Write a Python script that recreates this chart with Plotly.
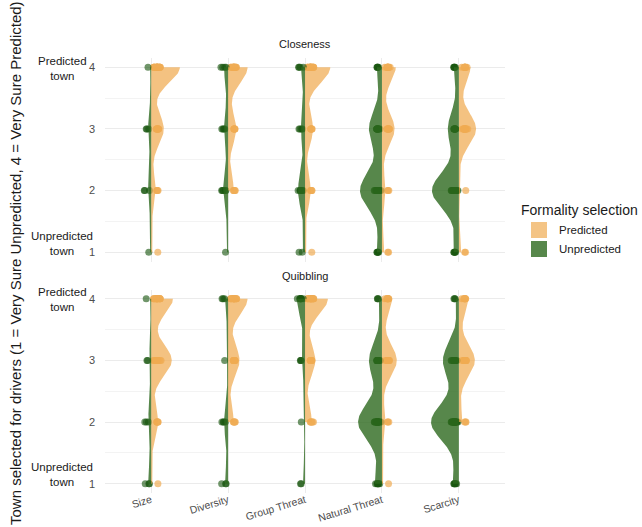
import numpy as np
import plotly.graph_objects as go
from plotly.subplots import make_subplots

# ---------------- data ----------------
categories = ["Size", "Diversity", "Group Threat", "Natural Threat", "Scarcity"]
levels = [1, 2, 3, 4]
facets = ["Closeness", "Quibbling"]
groups = ["Predicted", "Unpredicted"]

# number of responses at levels 1, 2, 3, 4 for each category
closeness_predicted = [[1, 4, 11, 25], [0, 5, 7, 17], [1, 5, 7, 22], [2, 3, 11, 12], [2, 1, 15, 10]]
closeness_unpredicted = [[1, 3, 3, 1], [1, 5, 4, 4], [2, 7, 4, 4], [5, 22, 13, 5], [5, 27, 11, 5]]
quibbling_predicted = [[1, 6, 18, 19], [0, 5, 10, 17], [0, 6, 9, 20], [1, 3, 13, 9], [0, 3, 14, 8]]
quibbling_unpredicted = [[3, 3, 2, 1], [3, 4, 1, 3], [2, 1, 3, 8], [7, 24, 13, 3], [6, 28, 16, 3]]

y_tick_vals = [1, 2, 3, 4]
y_tick_text = ["1", "2", "3", "4"]
y_end_labels = {4: "Predicted<br>town", 1: "Unpredicted<br>town"}
y_title = "Town selected for drivers (1 = Very Sure Unpredicted, 4 = Very Sure Predicted)"
legend_title = "Formality selection"

data = {
    ("Closeness", "Predicted"): closeness_predicted,
    ("Closeness", "Unpredicted"): closeness_unpredicted,
    ("Quibbling", "Predicted"): quibbling_predicted,
    ("Quibbling", "Unpredicted"): quibbling_unpredicted,
}

# ---------------- style ----------------
FONT = "Liberation Sans, Arial, Helvetica, sans-serif"
fill = {"Predicted": "rgba(240,170,80,0.72)", "Unpredicted": "rgba(45,105,30,0.80)"}
key_col = {"Predicted": "rgb(244,196,133)", "Unpredicted": "rgb(87,135,75)"}
pt_col = {"Predicted": "rgba(240,172,85,0.70)", "Unpredicted": "rgba(25,85,15,0.62)"}
sign = {"Predicted": 1, "Unpredicted": -1}
bandwidth = {"Predicted": 0.26, "Unpredicted": 0.30}
ppos = {"Predicted": 0.26, "Unpredicted": -0.17}
jit = {"Predicted": 0.17, "Unpredicted": 0.15}
HALF_WIDTH = 0.45
GRID = "#EBEBEB"
positions = list(range(len(categories)))


def expand(counts):
    vals = []
    for lv, c in zip(levels, counts):
        vals += [lv] * c
    return np.array(vals, dtype=float)


def kde(vals, bw, grid):
    z = (grid[:, None] - vals[None, :]) / bw
    return np.exp(-0.5 * z ** 2).sum(axis=1) / (len(vals) * bw * np.sqrt(2 * np.pi))


fig = make_subplots(rows=2, cols=1, shared_xaxes=True, vertical_spacing=28 / 435)

# legend keys
for g in groups:
    fig.add_trace(
        go.Scatter(
            x=[None], y=[None], mode="markers", name=g, legendgroup=g,
            marker=dict(symbol="square", size=16, color=key_col[g], line=dict(width=0)),
            showlegend=True, hoverinfo="skip",
        ),
        row=1, col=1,
    )

for r, facet in enumerate(facets, start=1):
    dens = {}
    for g in groups:
        for ci in positions:
            vals = expand(data[(facet, g)][ci])
            if len(vals) == 0:
                continue
            grid = np.linspace(vals.min(), vals.max(), 256)
            dens[(g, ci)] = (vals, grid, kde(vals, bandwidth[g], grid))
    max_d = max(d.max() for _, _, d in dens.values())
    max_n = max(len(v) for v, _, _ in dens.values())

    # violins (count-scaled within the panel)
    for g in groups:
        for ci in positions:
            if (g, ci) not in dens:
                continue
            vals, grid, d = dens[(g, ci)]
            w = d / max_d * len(vals) / max_n * HALF_WIDTH
            xs = np.concatenate([positions[ci] + sign[g] * w, np.full(len(grid), positions[ci])])
            ys = np.concatenate([grid, grid[::-1]])
            fig.add_trace(
                go.Scatter(
                    x=xs, y=ys, mode="lines", fill="toself",
                    fillcolor=fill[g], line=dict(width=0, color=fill[g]),
                    name=g, legendgroup=g, showlegend=False, hoverinfo="skip",
                ),
                row=r, col=1,
            )
    # jittered points
    for g in groups:
        for ci in positions:
            if (g, ci) not in dens:
                continue
            vals = dens[(g, ci)][0]
            fig.add_trace(
                go.Box(
                    x=[positions[ci]] * len(vals), y=vals,
                    boxpoints="all", jitter=jit[g], pointpos=ppos[g],
                    fillcolor="rgba(0,0,0,0)", line=dict(width=0, color="rgba(0,0,0,0)"),
                    whiskerwidth=0,
                    marker=dict(size=7, color=pt_col[g], line=dict(width=0)),
                    showlegend=False, legendgroup=g, hoverinfo="skip",
                ),
                row=r, col=1,
            )

fig.update_layout(
    width=642,
    height=527,
    margin=dict(l=105, r=137, t=58, b=34, autoexpand=False),
    paper_bgcolor="white",
    plot_bgcolor="white",
    boxmode="overlay",
    boxgap=0.1,
    font=dict(family=FONT, size=11, color="#1a1a1a"),
    legend=dict(
        title=dict(text=legend_title, font=dict(size=14, color="#1a1a1a")),
        x=1.035,
        xanchor="left",
        y=0.68,
        yanchor="top",
        font=dict(size=11.5, color="#1a1a1a"),
        bgcolor="rgba(0,0,0,0)",
        itemwidth=30,
        tracegroupgap=0,
    ),
)

for r in (1, 2):
    fig.update_xaxes(
        range=[-0.6, len(categories) - 0.4],
        tickvals=positions,
        ticktext=categories,
        showgrid=True,
        gridcolor=GRID,
        gridwidth=1,
        zeroline=False,
        showline=False,
        ticks="",
        showticklabels=(r == 2),
        tickangle=-17,
        ticklabelstandoff=-2,
        tickfont=dict(size=10.5, color="#4d4d4d"),
        automargin=False,
        row=r,
        col=1,
    )
    fig.update_yaxes(
        range=[0.85, 4.15],
        tickvals=y_tick_vals,
        ticktext=y_tick_text,
        tickfont=dict(size=11, color="#4d4d4d"),
        ticklabelstandoff=9,
        showgrid=True,
        gridcolor=GRID,
        gridwidth=1.2,
        minor=dict(dtick=0.5, tick0=0.5, showgrid=True, gridcolor="#F3F3F3", gridwidth=0.8),
        zeroline=False,
        showline=False,
        ticks="",
        automargin=False,
        row=r,
        col=1,
    )

annotations = []
for r, facet in enumerate(facets, start=1):
    yref = "y domain" if r == 1 else "y2 domain"
    annotations.append(dict(
        text=facet, xref="paper", yref=yref, x=0.5, y=1.0, yshift=6,
        xanchor="center", yanchor="bottom", showarrow=False,
        font=dict(size=11, color="#1a1a1a"),
    ))
    yr = "y" if r == 1 else "y2"
    for lv, txt in y_end_labels.items():
        annotations.append(dict(
            text=txt, xref="paper", yref=yr, x=-0.1075, y=lv,
            yshift=(9 if lv == 1 else -1),
            xanchor="center", yanchor="middle", align="center", showarrow=False,
            font=dict(size=11.5, color="#1a1a1a"),
        ))
annotations.append(dict(
    text=y_title, xref="paper", yref="paper", x=-0.225, y=(493 - 263) / 435,
    xanchor="center", yanchor="middle", textangle=-90, showarrow=False,
    font=dict(size=15, color="#1a1a1a"),
))
fig.update_layout(annotations=annotations)

fig.write_html(
    "out.html",
    config={"displayModeBar": False},
    post_script="document.body.style.margin='0';document.body.style.overflow='hidden';",
)
